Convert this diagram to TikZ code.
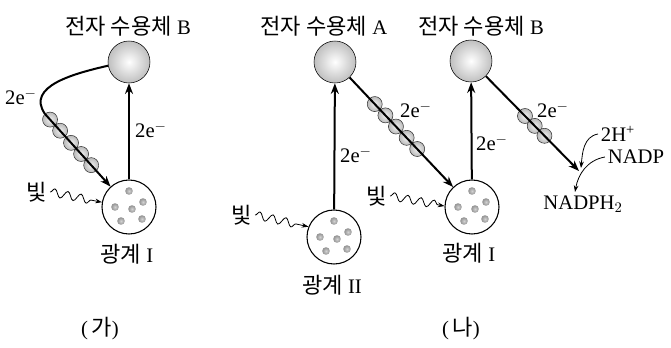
\documentclass[tikz,border=0pt]{standalone}
\usepackage{fontspec}
\setmainfont{Liberation Serif}
\newfontfamily\kr[Scale=1.07]{Noto Sans CJK KR}
\usetikzlibrary{positioning, arrows.meta, calc, decorations.pathmorphing}

\begin{document}
\begin{tikzpicture}[
x=0.75pt, y=0.75pt,
>=Stealth,
acceptor/.style={circle, draw, thin, inner sep=0pt, minimum size=31.5pt, inner color=white, outer color=gray!50},
ps/.style={circle, draw, line width=0.8pt, inner sep=0pt, minimum size=40.5pt, fill=white},
bead/.style={draw=black!80, thin, inner color=gray!10, outer color=gray!55},
dot/.style={inner color=gray!35, outer color=gray!85},
flow/.style={line width=1.5pt, -{Stealth[length=8pt, width=6pt]}},
thinflow/.style={line width=0.6pt, -{Stealth[length=5pt, width=3.5pt]}},
light/.style={decorate, decoration={snake, amplitude=3pt, segment length=10pt, post length=5pt}, line width=0.6pt, -{Stealth[length=5pt, width=3.5pt]}},
txt/.style={font=\fontsize{15.5}{17}\selectfont, inner sep=2pt}
]
\useasboundingbox (0,0) rectangle (671,-347);

% (ga) panel
\node[acceptor] (accB1) at (129,-62) {};
\node[ps] (psI1) at (129,-207) {};
\node[txt] (tB1) at (128,-26) {{\kr 전자 수용체} B};
\node[txt] (nI1) at (127,-254) {{\kr 광계} I};
\node[txt] (l1) at (37,-192) {\kr 빛};
\node[txt] (e1) at (21,-97) {2e\textsuperscript{$-$}};
\node[txt] (e2) at (151,-130) {2e\textsuperscript{$-$}};
\coordinate (bend1) at (45,-114);

\foreach \t in {0.06,0.18,0.31,0.43,0.55}
  \shadedraw[bead] ($(bend1)!\t!(psI1)$) circle (7.5);
\draw[line width=1.5pt] (accB1.190) to[out=193,in=125,looseness=1.1] (bend1);
\draw[flow] (bend1) -- (psI1);
\draw[flow] (psI1) -- (accB1);
\draw[light] (l1.east) -- (psI1.170);

% (na) panel
\node[acceptor] (accA) at (335,-62) {};
\node[ps] (psII) at (334,-237) {};
\node[acceptor] (accB2) at (471,-61) {};
\node[ps] (psI2) at (472,-207) {};
\node[txt] (tA) at (324,-26) {{\kr 전자 수용체} A};
\node[txt] (tB2) at (481,-26) {{\kr 전자 수용체} B};
\node[txt] (nII) at (332,-285) {{\kr 광계} II};
\node[txt] (nI2) at (469,-253) {{\kr 광계} I};
\node[txt] (l2) at (242,-215) {\kr 빛};
\node[txt] (l3) at (377,-196) {\kr 빛};
\node[txt] (e3) at (356,-155) {2e\textsuperscript{$-$}};
\node[txt] (e4) at (416,-110) {2e\textsuperscript{$-$}};
\node[txt] (e5) at (492,-143) {2e\textsuperscript{$-$}};
\node[txt] (e6) at (553,-110) {2e\textsuperscript{$-$}};
\node[txt] (h2) at (618,-134) {2H\textsuperscript{+}};
\node[txt] (nadp) at (636,-157) {NADP};
\node[txt] (nadph) at (583,-204) {NADPH$_2$};
\coordinate (nEnd) at (579,-171);
\coordinate (hEnd) at (581,-168);
\coordinate (pEnd) at (575,-192);

\foreach \t in {0.29,0.368,0.445,0.523,0.60}
  \shadedraw[bead] ($(accA)!\t!(psI2)$) circle (7.5);
\foreach \t in {0.50,0.59,0.68}
  \shadedraw[bead] ($(accB2)!\t!(nEnd)$) circle (7.5);
\draw[flow] (psII) -- (accA);
\draw[flow] (accA) -- (psI2);
\draw[flow] (psI2) -- (accB2);
\draw[flow] (accB2) -- (nEnd);
\draw[light] (l2.east) -- (psII.158);
\draw[light] (l3.east) -- (psI2.178);
\draw[thinflow] (h2.west) to[out=190,in=85] (hEnd);
\draw[thinflow] (nadp.west) to[out=190,in=80] (pEnd);

% dots in the photosystems
\foreach \p in {psI1,psII,psI2}
  \foreach \dx/\dy in {0/16,-14/0,3/-2,14/5,-8/-14,13/-12}
    \shade[dot] ($(\p)+(\dx,\dy)$) circle (3.8);

% captions
\node[txt] (capA) at (100,-329) {(\,{\kr 가})};
\node[txt] (capB) at (461,-329) {(\,{\kr 나})};

\end{tikzpicture}
\end{document}
